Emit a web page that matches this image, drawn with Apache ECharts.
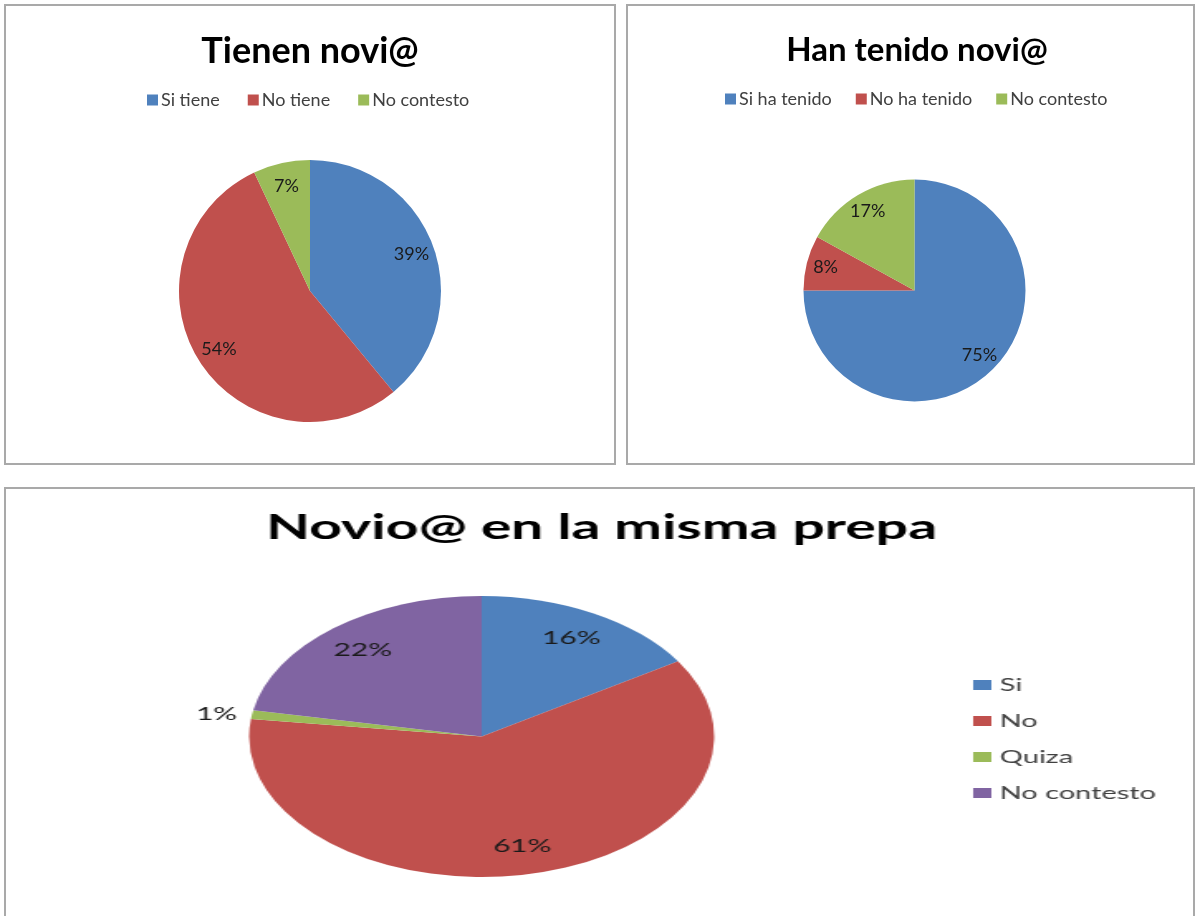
<!DOCTYPE html>
<html>
<head>
<meta charset="utf-8">
<script src="https://cdn.jsdelivr.net/npm/echarts@6/dist/echarts.min.js"></script>
<style>
html, body { margin: 0; padding: 0; background: #fff; width: 1196px; height: 916px; overflow: hidden; position: relative; }
.frame { position: absolute; border: 2px solid #a9a9a9; box-sizing: border-box; }
.chart { position: absolute; }
</style>
</head>
<body>
<div class="frame" style="left:4px;top:4px;width:612px;height:461px"></div>
<div class="frame" style="left:626px;top:4px;width:569px;height:461px"></div>
<div class="frame" style="left:4px;top:487px;width:1191px;height:440px"></div>
<div id="c1" class="chart" style="left:0;top:0;width:620px;height:470px"></div>
<div id="c2" class="chart" style="left:620px;top:0;width:576px;height:470px"></div>
<div id="c3" class="chart" style="left:5px;top:488px;width:718px;height:428px;transform:scaleX(1.655);transform-origin:0 0"></div>
<script>
// ---- data ----
const chart1Title = 'Tienen novi@';
const chart1Categories = ['Si tiene', 'No tiene', 'No contesto'];
const chart1Values = [39, 54, 7];

const chart2Title = 'Han tenido novi@';
const chart2Categories = ['Si ha tenido', 'No ha tenido', 'No contesto'];
const chart2Values = [75, 8, 17];

const chart3Title = 'Novio@ en la misma prepa';
const chart3Categories = ['Si', 'No', 'Quiza', 'No contesto'];
const chart3Values = [16, 61, 1, 22];
const chart3OutsideLabels = ['Quiza'];

const palette = ['#4F81BD', '#C0504D', '#9BBB59', '#8064A2'];
const FONT = 'Lato, "Open Sans", sans-serif';

function pct(p) { return Math.round(p.percent) + '%'; }

function buildOption(cfg) {
  const mainData = cfg.categories.map((name, i) => {
    const item = { name: name, value: cfg.values[i] };
    if (cfg.outside && cfg.outside.indexOf(name) >= 0) {
      item.label = { show: true, position: 'outside', formatter: pct, color: '#1a1a1a',
        fontFamily: FONT, fontSize: cfg.labelSize };
      item.labelLine = { show: false, length: 4, length2: 0 };
    }
    return item;
  });
  const overlayData = cfg.categories.map((name, i) => {
    const item = { name: name, value: cfg.values[i] };
    if (cfg.outside && cfg.outside.indexOf(name) >= 0) item.label = { show: false };
    return item;
  });
  return {
    animation: false,
    color: palette,
    title: {
      text: cfg.title, left: cfg.titleX, top: cfg.titleTop, textAlign: 'center',
      textStyle: { fontFamily: FONT, fontWeight: 'bold', fontSize: cfg.titleSize, color: '#000' }
    },
    legend: Object.assign({
      data: cfg.categories,
      icon: 'rect', itemWidth: 11, itemHeight: 11,
      selectedMode: false,
      textStyle: { fontFamily: FONT, fontSize: cfg.legendSize, color: '#404040', padding: [0, 0, 0, -2] }
    }, cfg.legend),
    series: [
      {
        type: 'pie', name: 'main', startAngle: 90, clockwise: true,
        center: cfg.center, radius: cfg.radius,
        label: { show: false },
        labelLine: { show: false },
        itemStyle: { borderWidth: 0 },
        emphasis: { scale: false },
        avoidLabelOverlap: false,
        data: mainData
      },
      {
        type: 'pie', name: 'labels', startAngle: 90, clockwise: true,
        center: cfg.center, radius: cfg.radius * 2 * cfg.labelFactor,
        silent: true,
        itemStyle: { color: 'rgba(0,0,0,0)', borderWidth: 0 },
        emphasis: { disabled: true },
        avoidLabelOverlap: false,
        label: { show: true, position: 'inside', formatter: pct, color: '#1a1a1a',
          fontFamily: FONT, fontSize: cfg.labelSize },
        labelLine: { show: false },
        data: overlayData
      }
    ]
  };
}

const c1 = echarts.init(document.getElementById('c1'));
c1.setOption(buildOption({
  title: chart1Title, categories: chart1Categories, values: chart1Values,
  titleX: 305, titleTop: 28, titleSize: 36,
  legend: { left: 142, top: 86, itemGap: 28 }, legendSize: 18,
  center: [310, 291], radius: 131, labelFactor: 0.8, labelSize: 18
}));

const c2 = echarts.init(document.getElementById('c2'));
c2.setOption(buildOption({
  title: chart2Title, categories: chart2Categories, values: chart2Values,
  titleX: 292, titleTop: 29, titleSize: 33,
  legend: { left: 100, top: 85, itemGap: 24 }, legendSize: 18,
  center: [294.5, 290.5], radius: 111, labelFactor: 0.8, labelSize: 18
}));

const c3 = echarts.init(document.getElementById('c3'));
c3.setOption(buildOption({
  title: chart3Title, categories: chart3Categories, values: chart3Values,
  outside: chart3OutsideLabels,
  titleX: 355.5, titleTop: 17, titleSize: 34.5,
  legend: { orient: 'vertical', left: 580, top: 182, itemGap: 16, itemWidth: 11, itemHeight: 10,
    textStyle: { fontFamily: FONT, fontSize: 17.5, color: '#404040', lineHeight: 20 } },
  legendSize: 17.5,
  center: [288, 248.5], radius: 140.5, labelFactor: 0.78, labelSize: 18
}));
</script>
</body>
</html>
